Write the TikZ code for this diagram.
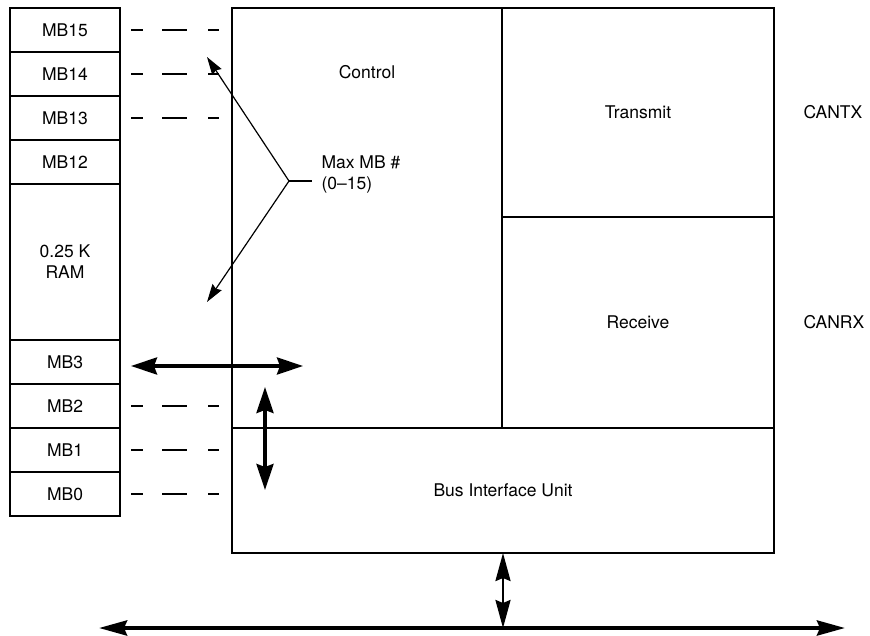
\documentclass[tikz,border=0pt]{standalone}
\usepackage{fontspec}
\setmainfont{TeX Gyre Heros}
\usetikzlibrary{positioning,arrows.meta}

\tikzset{
  blk/.style={draw,line width=2pt,inner sep=0pt,outer sep=0pt},
  mbcell/.style={blk,minimum width=110pt,minimum height=44pt},
  dashline/.style={line width=1.8pt,dash pattern=on 12pt off 19pt on 25pt off 21pt on 11pt off 30pt,
    shorten <=11pt,shorten >=13pt},
  ptr/.style={line width=1.2pt,-{Stealth[length=18pt,width=11pt,inset=2pt]}},
  busarrow/.style={line width=3.5pt,{Stealth[length=26pt,width=17pt,inset=3pt]}-{Stealth[length=26pt,width=17pt,inset=3pt]}},
  linkarrow/.style={line width=2.5pt,{Stealth[length=28pt,width=15pt,inset=3pt]}-{Stealth[length=28pt,width=15pt,inset=3pt]}},
}

\begin{document}
\begin{tikzpicture}[x=1pt,y=-1pt,font=\fontsize{17.5pt}{21pt}\selectfont]
\useasboundingbox (0,0) rectangle (870,635);

% message buffer column
\node[mbcell] (mb15) at (65,30) {MB15};
\node[mbcell,below=0pt of mb15] (mb14) {MB14};
\node[mbcell,below=0pt of mb14] (mb13) {MB13};
\node[mbcell,below=0pt of mb13] (mb12) {MB12};
\node[mbcell,below=0pt of mb12,minimum height=156pt,align=center] (ram) {0.25 K\\RAM};
\node[mbcell,below=0pt of ram] (mb3) {MB3};
\node[mbcell,below=0pt of mb3] (mb2) {MB2};
\node[mbcell,below=0pt of mb2] (mb1) {MB1};
\node[mbcell,below=0pt of mb1] (mb0) {MB0};

% CAN module
\node[blk,minimum width=270pt,minimum height=420pt] (control) at (367,218) {};
\node (ctrllbl) at (control.north |- 0,72) {Control};
\node[blk,minimum width=272pt,minimum height=209pt,anchor=north west] (transmit) at (control.north east) {Transmit};
\node[blk,minimum width=272pt,minimum height=211pt,anchor=north west] (receive) at (transmit.south west) {Receive};
\node[blk,minimum width=542pt,minimum height=125pt,anchor=north west] (biu) at (control.south west) {Bus Interface Unit};

\node[right=26pt of transmit] (cantx) {CANTX};
\node[right=26pt of receive] (canrx) {CANRX};

% dashed links
\foreach \m in {mb15,mb14,mb13,mb2,mb1,mb0}
  \draw[dashline] (\m.east) -- (\m.east -| control.west);

% max MB pointer
\node[anchor=west,align=left] (maxlbl) at (318,174) {Max MB \#\\(0--15)};
\coordinate (maxjoin) at (289,181);
\coordinate (maxtop) at (207,57);
\coordinate (maxbot) at (207,302);
\draw[line width=1.2pt,shorten >=6pt] (maxjoin) -- (maxlbl.west |- maxjoin);
\draw[ptr] (maxjoin) -- (maxtop);
\draw[ptr] (maxjoin) -- (maxbot);

% internal buses
\coordinate (mbbusw) at (131,366);
\coordinate (mbbuse) at (303,366);
\draw[busarrow] (mbbusw) -- (mbbuse);
\coordinate (ctltop) at (265,387);
\coordinate (ctlbot) at (265,490);
\draw[busarrow] (ctltop) -- (ctlbot);

% CAN bus
\coordinate (buswest) at (99,628);
\coordinate (buseast) at (845,628);
\draw[line width=4pt,{Stealth[length=28pt,width=15pt,inset=3pt]}-{Stealth[length=28pt,width=15pt,inset=3pt]}] (buswest) -- (buseast);
\draw[linkarrow] (biu.south) -- (biu.south |- buswest);
\end{tikzpicture}
\end{document}
